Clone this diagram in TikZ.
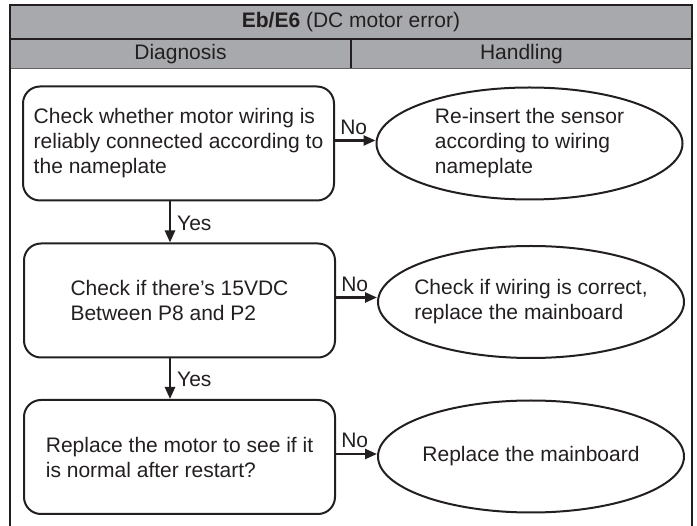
\documentclass[tikz,border=0pt]{standalone}
\usepackage{fontspec}
\setmainfont{Liberation Sans}
\usetikzlibrary{arrows.meta,shapes.geometric}
\definecolor{ink}{HTML}{231F20}
\definecolor{hdr}{HTML}{A7A9AC}
\tikzset{
  chk/.style={draw=ink, line width=2pt, rounded corners=17pt, minimum width=311pt, minimum height=114pt, align=left, inner sep=0pt, text=ink},
  act/.style={draw=ink, line width=2pt, ellipse, minimum width=306pt, minimum height=112pt, inner sep=0pt},
  acttext/.style={align=left, inner sep=0pt, text=ink},
  flow/.style={draw=ink, line width=2.4pt, -{Triangle[length=12pt,width=10pt]}},
  lbl/.style={text=ink, inner sep=0pt},
  txt/.style={font=\fontsize{21pt}{25pt}\selectfont},
}
\begin{document}
\begin{tikzpicture}[x=1pt,y=-1pt,txt]
\useasboundingbox (0,0) rectangle (697,526);
% header
\fill[hdr] (10,5) rectangle (692,68);
\draw[ink!70, line width=0.8pt] (10,68) -- (692,68);
\draw[ink, line width=2.6pt] (10,39) -- (692,39);
\draw[ink, line width=2.6pt] (351,39) -- (351,68);
\draw[ink, line width=2.6pt] (10,526) -- (10,5) -- (692,5) -- (692,526);
\node[lbl] (title) at (351,22) {\textbf{Eb/E6} (DC motor error)};
\node[lbl] (diag) at (180.5,54) {Diagnosis};
\node[lbl] (hand) at (521.5,54) {Handling};
% boxes
\node[chk] (b1) at (178.5,143.5) {Check whether motor wiring is\\reliably connected according to\\the nameplate};
\node[chk] (b2) at (179.5,300.5) {Check if there’s 15VDC\\Between P8 and P2};
\node[chk] (b3) at (179.5,457) {Replace the motor to see if it\\is normal after restart?};
% ellipses
\node[act] (e1) at (529.5,143.5) {};
\node[acttext] (t1) at (e1.center) {Re-insert the sensor\\according to wiring\\nameplate};
\node[act] (e2) at (531,302) {};
\node[acttext] (t2) at (e2.center) {Check if wiring is correct,\\replace the mainboard};
\node[act] (e3) at (531,456.5) {};
\node[acttext] (t3) at (e3.center) {Replace the mainboard};
% connectors
\draw[flow] (b1.south -| 170,0) -- (b2.north -| 170,0) node[lbl, midway, right=6pt, yshift=-1pt] (y1) {Yes};
\draw[flow] (b2.south -| 170,0) -- (b3.north -| 170,0) node[lbl, midway, right=6pt, yshift=-1pt] (y2) {Yes};
\draw[flow] ([yshift=3pt]b1.east) -- ([yshift=3pt]b1.east -| e1.west) node[lbl, pos=0.1, anchor=south west, yshift=5pt] (n1) {No};
\draw[flow] ([yshift=3pt]b2.east) -- ([yshift=3pt]b2.east -| e2.west) node[lbl, pos=0.1, anchor=south west, yshift=5pt] (n2) {No};
\draw[flow] ([yshift=3pt]b3.east) -- ([yshift=3pt]b3.east -| e3.west) node[lbl, pos=0.1, anchor=south west, yshift=5pt] (n3) {No};
\end{tikzpicture}
\end{document}
